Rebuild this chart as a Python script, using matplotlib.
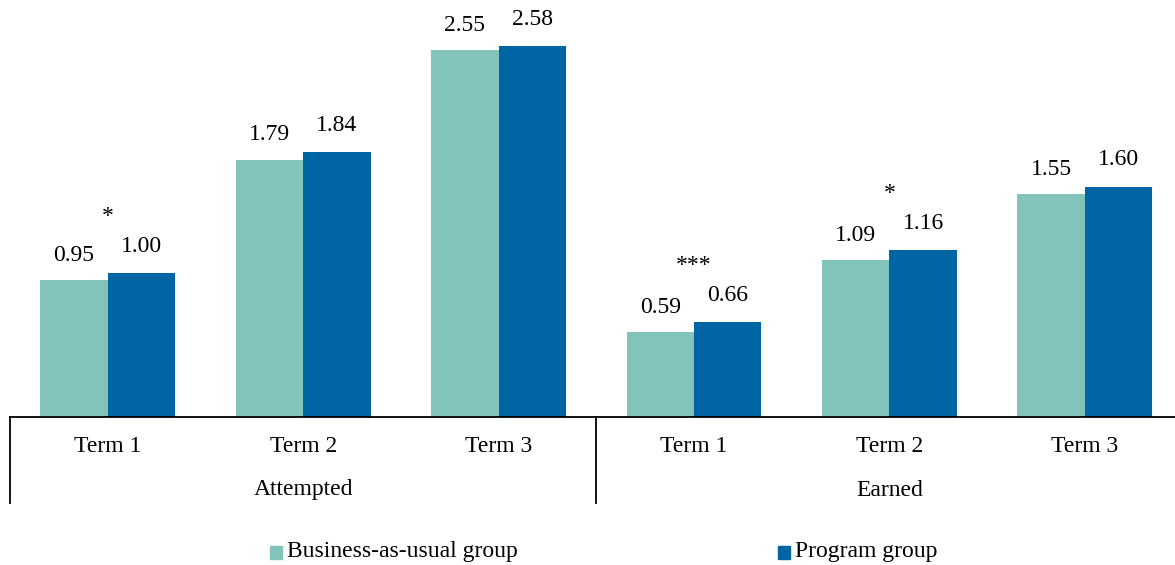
import matplotlib.pyplot as plt
from matplotlib.patches import Rectangle
import numpy as np

# values
terms = ["Term 1", "Term 2", "Term 3", "Term 1", "Term 2", "Term 3"]
groups = ["Attempted", "Earned"]
bau_values = [0.95, 1.79, 2.55, 0.59, 1.09, 1.55]
program_values = [1.00, 1.84, 2.58, 0.66, 1.16, 1.60]
stars = ["*", "", "", "***", "*", ""]
series_names = ["Business-as-usual group", "Program group"]

teal = "#82C4BB"
blue = "#0066A3"
font = "Liberation Serif"
fs = 17

fig = plt.figure(figsize=(11.75, 5.65), dpi=100)
W, H = 1175, 565
ax = fig.add_axes([10 / W, 148 / H, 1172.6 / W, 417 / H])

x = np.arange(len(terms))
bw = 0.345
ax.bar(x - bw / 2, bau_values, bw, color=teal)
ax.bar(x + bw / 2, program_values, bw, color=blue)

ax.set_xlim(-0.5, len(terms) - 0.5)
ax.set_ylim(0, 2.90)

# value labels above the bars
for xi, v in zip(x - bw / 2, bau_values):
    ax.annotate(f"{v:.2f}", (xi, v), xytext=(0, 25 * 0.72), textcoords="offset points",
                ha="center", va="center", fontsize=fs, fontname=font)
for xi, v in zip(x + bw / 2, program_values):
    ax.annotate(f"{v:.2f}", (xi, v), xytext=(0, 27 * 0.72), textcoords="offset points",
                ha="center", va="center", fontsize=fs, fontname=font)

# significance stars
for xi, s, a, b in zip(x, stars, bau_values, program_values):
    if s:
        ax.annotate(s, (xi, max(a, b)), xytext=(0, 57 * 0.72), textcoords="offset points",
                    ha="center", va="center", fontsize=fs, fontname=font)

# axis styling
for side in ["top", "right", "left"]:
    ax.spines[side].set_visible(False)
ax.spines["bottom"].set_linewidth(1.3)
ax.set_yticks([])
ax.set_xticks([])

# category labels
trans = ax.get_xaxis_transform()
for xi, t in zip(x, terms):
    ax.text(xi, -30 / 417, t, transform=trans, ha="center", va="center",
            fontsize=fs, fontname=font)
for gi, g in enumerate(groups):
    ax.text(gi * 3 + 1, -73 / 417, g, transform=trans, ha="center", va="center",
            fontsize=fs, fontname=font)

# group separators
for xs in [-0.5, 2.5]:
    ax.plot([xs, xs], [0, -86 / 417], transform=trans, color="black", lw=1.3,
            clip_on=False)

# legend
for (lx, tx), name, c in zip([(270, 287), (778, 795)], series_names, [teal, blue]):
    fig.patches.append(Rectangle((lx / W, (H - 559) / H), 12 / W, 13 / H,
                                 transform=fig.transFigure, color=c))
    fig.text(tx / W, (H - 552) / H, name, ha="left", va="center",
             fontsize=fs, fontname=font)

fig.savefig("out.png", dpi=100)
